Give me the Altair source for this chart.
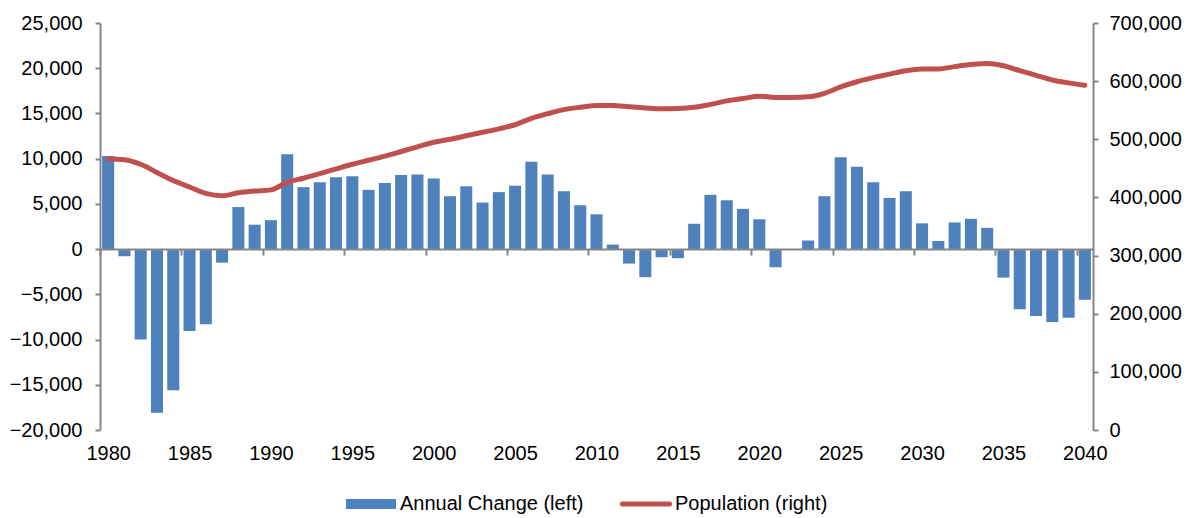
import altair as alt
import pandas as pd

# ---------------- data ----------------
years = list(range(1980, 2041))
annual_change = [
    10300, -800, -10000, -18100, -15600, -9050, -8300, -1500, 4650, 2700,
    3200, 10500, 6850, 7400, 7950, 8050, 6550, 7300, 8200, 8250,
    7800, 5850, 6950, 5150, 6300, 7000, 9650, 8250, 6400, 4850,
    3850, 500, -1600, -3100, -900, -1000, 2800, 6000, 5400, 4450,
    3300, -2000, 0, 950, 5850, 10150, 9100, 7400, 5650, 6400,
    2850, 900, 2950, 3350, 2350, -3150, -6650, -7400, -8050, -7600,
    -5600,
]
population = [
    466000, 465000, 457000, 443000, 429000, 418000, 407000, 403000, 408000, 411000,
    413000, 426000, 433000, 441000, 449000, 457000, 464000, 471000, 479000, 487000,
    495000, 500000, 506000, 512000, 518000, 525000, 536000, 544000, 551000, 555000,
    558000, 558000, 556000, 554000, 552500, 553000, 555000, 560000, 566000, 570000,
    574000, 572000, 572000, 573000, 579000, 590000, 599000, 606000, 612000, 618000,
    621000, 621000, 625000, 628500, 630500, 626500, 618000, 610000, 602000, 597000,
    593000,
]
series_names = ["Annual Change (left)", "Population (right)"]
x_label_values = [1980, 1985, 1990, 1995, 2000, 2005, 2010, 2015, 2020, 2025, 2030, 2035, 2040]
left_ticks = [-20000, -15000, -10000, -5000, 0, 5000, 10000, 15000, 20000, 25000]
right_ticks = [0, 100000, 200000, 300000, 400000, 500000, 600000, 700000]

df = pd.DataFrame({"Year": years, "Change": annual_change, "Population": population})
legend_df = pd.DataFrame({"Series": series_names})

# ---------------- layout / style ----------------
W, H = 993, 407
LEFT_MIN, LEFT_MAX = -20000, 25000
RIGHT_MIN, RIGHT_MAX = 0, 700000
PAD_IN, PAD_OUT = 0.26, 0.13
zero_from_bottom = H * (0 - LEFT_MIN) / (LEFT_MAX - LEFT_MIN)
step = W / len(years)
half_gap = PAD_IN * step / 2

FONT = "Liberation Sans"
GRAY = "#868686"
BLUE = "#4F81BD"
RED = "#C0504D"
BAR_PATH = "M-1,-0.2H1V0.2H-1Z"
LINE_PATH = "M-0.95,-0.1H0.95A0.1,0.1 0 0 1 0.95,0.1H-0.95A0.1,0.1 0 0 1 -0.95,-0.1Z"

x_axis = alt.Axis(
    values=x_label_values, bandPosition=0, tickOffset=-half_gap, labelOffset=half_gap,
    offset=-zero_from_bottom, tickSize=6, labelPadding=188,
    domainColor=GRAY, domainWidth=2, tickColor=GRAY, tickWidth=2,
    labelAngle=0, labelFontSize=20, labelColor="black", labelFont=FONT,
    title=None, zindex=1, labelOverlap=False, grid=False,
)
x_enc = alt.X("Year:O", scale=alt.Scale(paddingInner=PAD_IN, paddingOuter=PAD_OUT), axis=x_axis)

bars = alt.Chart(df).mark_bar(color=BLUE).encode(
    x=x_enc,
    y=alt.Y(
        "Change:Q",
        scale=alt.Scale(domain=[LEFT_MIN, LEFT_MAX], nice=False, zero=False),
        axis=alt.Axis(
            values=left_ticks, format=",.0f", orient="left", grid=False,
            domainColor=GRAY, domainWidth=2, tickColor=GRAY, tickWidth=2, tickSize=5,
            labelPadding=13, labelFontSize=20, labelFont=FONT, labelColor="black", title=None,
        ),
    ),
)

leg = alt.Legend(
    title=None, orient="none", legendX=246, legendY=456, direction="horizontal",
    symbolSize=2500, symbolOpacity=1, symbolStrokeWidth=0, labelFontSize=20,
    labelFont=FONT, labelColor="black", labelOffset=4, columnPadding=35,
    padding=0, labelLimit=400,
)
legend_pts = alt.Chart(legend_df).mark_point(filled=True, opacity=0).encode(
    color=alt.Color("Series:N", scale=alt.Scale(domain=series_names, range=[BLUE, RED]), legend=leg),
    shape=alt.Shape("Series:N", scale=alt.Scale(domain=series_names, range=[BAR_PATH, LINE_PATH]), legend=leg),
)

line = alt.Chart(df).mark_line(color=RED, strokeWidth=5, interpolate="monotone", strokeCap="round").encode(
    x=x_enc,
    y=alt.Y(
        "Population:Q",
        scale=alt.Scale(domain=[RIGHT_MIN, RIGHT_MAX], nice=False),
        axis=alt.Axis(
            values=right_ticks, format=",.0f", orient="right", grid=False,
            domainColor=GRAY, domainWidth=2, tickColor=GRAY, tickWidth=2, tickSize=5,
            labelPadding=11, labelFontSize=20, labelFont=FONT, labelColor="black", title=None,
        ),
    ),
)

chart = (
    alt.layer(alt.layer(bars, legend_pts), line)
    .resolve_scale(y="independent")
    .properties(
        width=W, height=H,
        padding={"left": 92, "top": 15, "right": 90, "bottom": 85},
        autosize=alt.AutoSizeParams(type="none"),
        background="white",
    )
    .configure_view(stroke=None)
)

chart.save("out.html", embed_options={"renderer": "svg", "actions": False})
